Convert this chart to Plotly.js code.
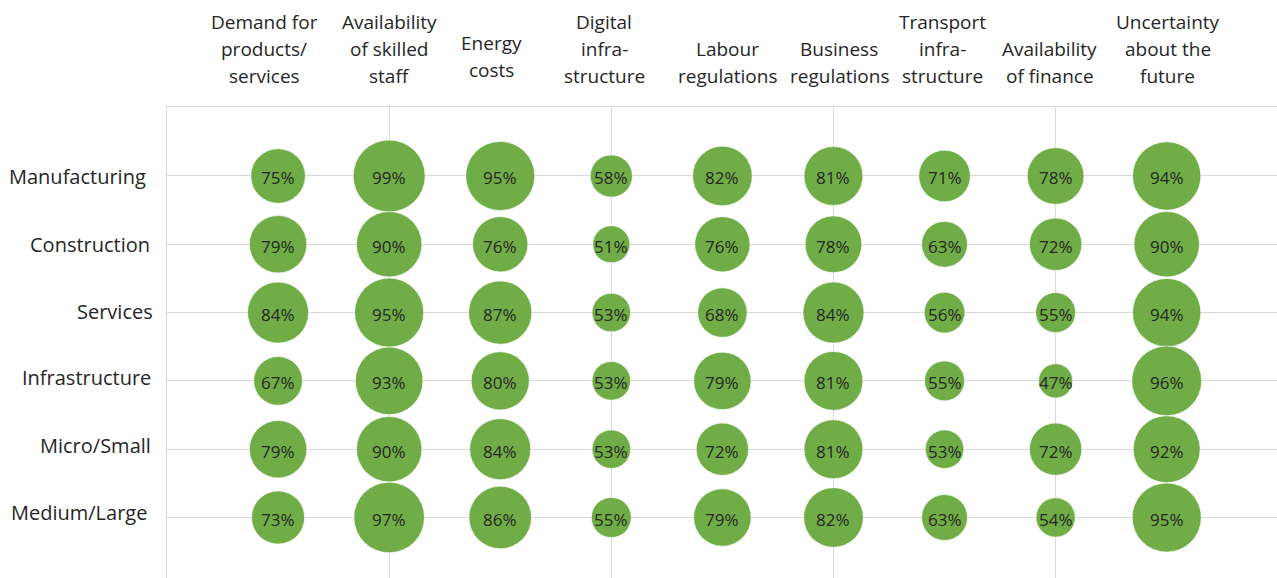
<!DOCTYPE html>
<html>
<head>
<meta charset="utf-8">
<script src="https://cdn.plot.ly/plotly-3.0.1.min.js"></script>
<style>
  html, body { margin: 0; padding: 0; background: #ffffff; overflow: hidden; }
  #chart { width: 1277px; height: 578px; }
</style>
</head>
<body>
<div id="chart"></div>
<script>
// Row categories (sector / size groups)
const rows = ["Manufacturing", "Construction", "Services", "Infrastructure", "Micro/Small", "Medium/Large"];

// Column categories (factors), shown as top labels
const columns = [
  "Demand for<br>products/<br>services",
  "Availability<br>of skilled<br>staff",
  "Energy<br>costs",
  "Digital<br>infra-<br>structure",
  "Labour<br>regulations",
  "Business<br>regulations",
  "Transport<br>infra-<br>structure",
  "Availability<br>of finance",
  "Uncertainty<br>about the<br>future"
];

// Values (%) per factor, in row order
const demandForProducts   = [75, 79, 84, 67, 79, 73];
const skilledStaff        = [99, 90, 95, 93, 90, 97];
const energyCosts         = [95, 76, 87, 80, 84, 86];
const digitalInfra        = [58, 51, 53, 53, 53, 55];
const labourRegulations   = [82, 76, 68, 79, 72, 79];
const businessRegulations = [81, 78, 84, 81, 81, 82];
const transportInfra      = [71, 63, 56, 55, 53, 63];
const financeAvailability = [78, 72, 55, 47, 72, 54];
const uncertainty         = [94, 90, 94, 96, 92, 95];

const seriesValues = [demandForProducts, skilledStaff, energyCosts, digitalInfra,
  labourRegulations, businessRegulations, transportInfra, financeAvailability, uncertainty];

// Small pixel nudges of the hand-placed text labels in the original (layout only)
const colLabelNudgeX = [-14, 0, -9, -7, 5, 6, -2, -6, 1];
const colLabelNudgeY = [0, 0, 6, 0, 0, 0, 0, 0, 0];
const rowLabelNudgeX = [-3, 1, 4, 2, 2, -2];
const rowLabelNudgeY = [0, 1, 2, 4, 5, 6];

const xs = [], ys = [], sizes = [], labels = [];
seriesValues.forEach((vals, ci) => {
  vals.forEach((v, ri) => {
    xs.push(ci);
    ys.push(ri);
    sizes.push(v);
    labels.push(v + "%");
  });
});

const gridColor = "#d9d9d9";
const textColor = "#262626";
const fontFamily = "'Open Sans', 'Noto Sans', sans-serif";

const bubbles = {
  type: "scatter",
  mode: "markers",
  x: xs,
  y: ys,
  marker: {
    size: sizes,
    sizemode: "diameter",
    sizeref: 1 / 0.727,
    color: "#70ad47",
    line: { width: 0.6, color: "#ffffff" },
    opacity: 1
  },
  hoverinfo: "skip",
  showlegend: false,
  cliponaxis: false
};

const annotations = [];

// value labels inside bubbles
xs.forEach((x, i) => {
  annotations.push({
    x: x, y: ys[i], xref: "x", yref: "y",
    text: labels[i], showarrow: false,
    xanchor: "center", yanchor: "middle", yshift: -2,
    font: { family: fontFamily, size: 17, color: textColor }
  });
});

// row labels on the left
rows.forEach((r, i) => {
  annotations.push({
    x: 0, y: i, xref: "paper", yref: "y",
    text: r, showarrow: false,
    xanchor: "right", yanchor: "middle",
    xshift: -16 + rowLabelNudgeX[i], yshift: -1 + rowLabelNudgeY[i],
    font: { family: fontFamily, size: 20, color: textColor }
  });
});

// column labels on top, one annotation per line for exact line spacing
const lineStep = 27;
columns.forEach((c, i) => {
  const lines = c.split("<br>");
  lines.forEach((ln, j) => {
    const fromBottom = lines.length - 1 - j;
    annotations.push({
      x: i, y: 1, xref: "x", yref: "paper",
      text: ln, showarrow: false,
      xanchor: "center", yanchor: "middle",
      xshift: colLabelNudgeX[i],
      yshift: 31 + fromBottom * lineStep + colLabelNudgeY[i],
      font: { family: fontFamily, size: 19, color: textColor }
    });
  });
});

const xRange = [-1, 8.993];

const layout = {
  width: 1277,
  height: 578,
  margin: { l: 167, r: 0, t: 107, b: 0, pad: 0 },
  paper_bgcolor: "#ffffff",
  plot_bgcolor: "#ffffff",
  font: { family: fontFamily, size: 18, color: textColor },
  xaxis: {
    range: xRange,
    tickmode: "array",
    tickvals: [-1, 1, 3, 5, 7, 9],
    showticklabels: false,
    showgrid: true,
    gridcolor: gridColor,
    gridwidth: 1,
    zeroline: false,
    showline: true,
    mirror: true,
    linecolor: gridColor,
    linewidth: 1,
    ticks: "",
    fixedrange: true
  },
  yaxis: {
    range: [5.886, -1.01],
    tickmode: "array",
    tickvals: rows.map((r, i) => i),
    showticklabels: false,
    showgrid: true,
    gridcolor: gridColor,
    gridwidth: 1,
    zeroline: false,
    showline: true,
    linecolor: gridColor,
    linewidth: 1,
    ticks: "",
    fixedrange: true
  },
  annotations: annotations,
  showlegend: false
};

Plotly.newPlot("chart", [bubbles], layout, { displayModeBar: false, staticPlot: true });
</script>
</body>
</html>
